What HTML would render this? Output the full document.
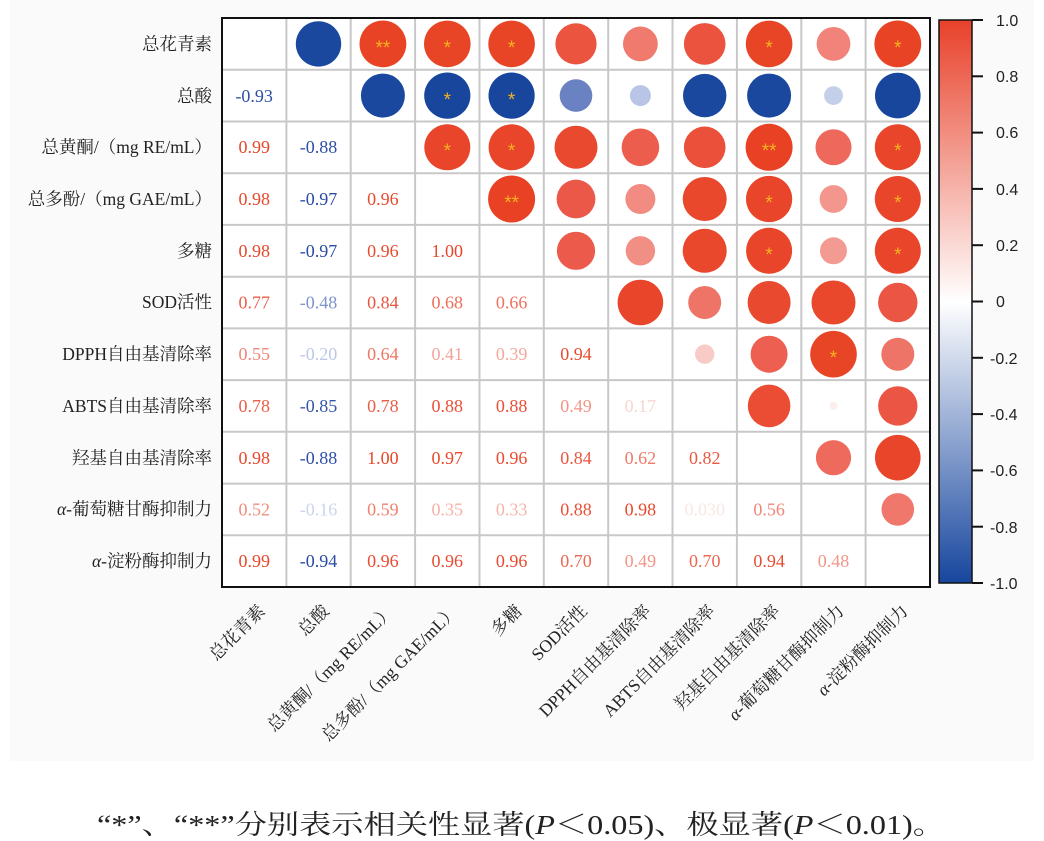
<!DOCTYPE html>
<html><head><meta charset="utf-8"><style>
body{margin:0;background:#fff}
svg{display:block}
.rl{font-family:"Liberation Serif","Noto Serif CJK SC",serif;font-size:17.5px;fill:#222}
.v{font-family:"Liberation Serif",serif;font-size:18px;text-anchor:middle}
.s{font-family:"Liberation Sans",sans-serif;font-size:19px;fill:#f4b41f;text-anchor:middle}
.cb{font-family:"Liberation Sans",sans-serif;font-size:16px;fill:#222}
</style></head><body>
<svg width="1044" height="841" viewBox="0 0 1044 841" xmlns="http://www.w3.org/2000/svg">
<defs><linearGradient id="g" x1="0" y1="0" x2="0" y2="1">
<stop offset="0" stop-color="#e8412a"/><stop offset="0.5" stop-color="#ffffff"/><stop offset="1" stop-color="#17469e"/></linearGradient></defs>
<rect x="10" y="0" width="1024" height="761" fill="#fafafa"/>
<rect x="222" y="18" width="708" height="569" fill="#fff"/>
<g stroke="#c8c8c8" stroke-width="2">
<line x1="286.4" y1="18" x2="286.4" y2="587"/><line x1="350.7" y1="18" x2="350.7" y2="587"/><line x1="415.1" y1="18" x2="415.1" y2="587"/><line x1="479.5" y1="18" x2="479.5" y2="587"/><line x1="543.8" y1="18" x2="543.8" y2="587"/><line x1="608.2" y1="18" x2="608.2" y2="587"/><line x1="672.5" y1="18" x2="672.5" y2="587"/><line x1="736.9" y1="18" x2="736.9" y2="587"/><line x1="801.3" y1="18" x2="801.3" y2="587"/><line x1="865.6" y1="18" x2="865.6" y2="587"/>
<line x1="222" y1="69.7" x2="930" y2="69.7"/><line x1="222" y1="121.5" x2="930" y2="121.5"/><line x1="222" y1="173.2" x2="930" y2="173.2"/><line x1="222" y1="224.9" x2="930" y2="224.9"/><line x1="222" y1="276.7" x2="930" y2="276.7"/><line x1="222" y1="328.4" x2="930" y2="328.4"/><line x1="222" y1="380.1" x2="930" y2="380.1"/><line x1="222" y1="431.8" x2="930" y2="431.8"/><line x1="222" y1="483.6" x2="930" y2="483.6"/><line x1="222" y1="535.3" x2="930" y2="535.3"/>
</g>
<rect x="222" y="18" width="708" height="569" fill="none" stroke="#111" stroke-width="2"/>
<g>
<circle cx="318.5" cy="43.9" r="22.7" fill="#1a489f"/>
<circle cx="382.9" cy="43.9" r="23.4" fill="#e84325"/>
<circle cx="447.3" cy="43.9" r="23.3" fill="#e84527"/>
<circle cx="511.6" cy="43.9" r="23.3" fill="#e84527"/>
<circle cx="576.0" cy="43.9" r="20.6" fill="#eb5540"/>
<circle cx="640.4" cy="43.9" r="17.4" fill="#f07a6e"/>
<circle cx="704.7" cy="43.9" r="20.8" fill="#eb533e"/>
<circle cx="769.1" cy="43.9" r="23.3" fill="#e84527"/>
<circle cx="833.5" cy="43.9" r="16.9" fill="#f1837a"/>
<circle cx="897.8" cy="43.9" r="23.4" fill="#e84325"/>

<circle cx="382.9" cy="95.6" r="22.0" fill="#1a489f"/>
<circle cx="447.3" cy="95.6" r="23.1" fill="#18469d"/>
<circle cx="511.6" cy="95.6" r="23.1" fill="#18469d"/>
<circle cx="576.0" cy="95.6" r="16.3" fill="#6b82c2"/>
<circle cx="640.4" cy="95.6" r="10.5" fill="#b8c5e6"/>
<circle cx="704.7" cy="95.6" r="21.7" fill="#1a489f"/>
<circle cx="769.1" cy="95.6" r="22.0" fill="#1a489f"/>
<circle cx="833.5" cy="95.6" r="9.4" fill="#c4cfea"/>
<circle cx="897.8" cy="95.6" r="22.8" fill="#18469d"/>

<circle cx="447.3" cy="147.3" r="23.0" fill="#e8452a"/>
<circle cx="511.6" cy="147.3" r="23.0" fill="#e8452a"/>
<circle cx="576.0" cy="147.3" r="21.5" fill="#e94a2f"/>
<circle cx="640.4" cy="147.3" r="18.8" fill="#ec5d4e"/>
<circle cx="704.7" cy="147.3" r="20.8" fill="#ea503a"/>
<circle cx="769.1" cy="147.3" r="23.5" fill="#e84123"/>
<circle cx="833.5" cy="147.3" r="18.0" fill="#ee685b"/>
<circle cx="897.8" cy="147.3" r="23.0" fill="#e8452a"/>

<circle cx="511.6" cy="199.0" r="23.5" fill="#e84123"/>
<circle cx="576.0" cy="199.0" r="19.4" fill="#ec5848"/>
<circle cx="640.4" cy="199.0" r="15.0" fill="#f28c82"/>
<circle cx="704.7" cy="199.0" r="22.0" fill="#e9482c"/>
<circle cx="769.1" cy="199.0" r="23.1" fill="#e8452a"/>
<circle cx="833.5" cy="199.0" r="13.9" fill="#f3978e"/>
<circle cx="897.8" cy="199.0" r="23.0" fill="#e8452a"/>

<circle cx="576.0" cy="250.8" r="19.1" fill="#ec5a4b"/>
<circle cx="640.4" cy="250.8" r="14.7" fill="#f28f85"/>
<circle cx="704.7" cy="250.8" r="22.0" fill="#e9482c"/>
<circle cx="769.1" cy="250.8" r="23.0" fill="#e8452a"/>
<circle cx="833.5" cy="250.8" r="13.5" fill="#f39b92"/>
<circle cx="897.8" cy="250.8" r="23.0" fill="#e8452a"/>

<circle cx="640.4" cy="302.5" r="22.8" fill="#e8452a"/>
<circle cx="704.7" cy="302.5" r="16.5" fill="#ef7468"/>
<circle cx="769.1" cy="302.5" r="21.5" fill="#e94a2f"/>
<circle cx="833.5" cy="302.5" r="22.0" fill="#e9482c"/>
<circle cx="897.8" cy="302.5" r="19.7" fill="#eb5644"/>

<circle cx="704.7" cy="354.2" r="9.7" fill="#f8cbc6"/>
<circle cx="769.1" cy="354.2" r="18.5" fill="#ed5f50"/>
<circle cx="833.5" cy="354.2" r="23.3" fill="#e84527"/>
<circle cx="897.8" cy="354.2" r="16.5" fill="#ef7468"/>

<circle cx="769.1" cy="405.9" r="21.3" fill="#ea4c34"/>
<circle cx="833.5" cy="405.9" r="4.1" fill="#fbefed"/>
<circle cx="897.8" cy="405.9" r="19.7" fill="#eb5644"/>

<circle cx="833.5" cy="457.7" r="17.6" fill="#ee6a5d"/>
<circle cx="897.8" cy="457.7" r="22.8" fill="#e8452a"/>

<circle cx="897.8" cy="509.4" r="16.3" fill="#f0776c"/>
</g>
<g class="s">
<text x="382.9" y="54">**</text><text x="447.3" y="54">*</text><text x="511.6" y="54">*</text><text x="769.1" y="54">*</text><text x="897.8" y="54">*</text>
<text x="447.3" y="106">*</text><text x="511.6" y="106">*</text>
<text x="447.3" y="157">*</text><text x="511.6" y="157">*</text><text x="769.1" y="157">**</text><text x="897.8" y="157">*</text>
<text x="511.6" y="209">**</text><text x="769.1" y="209">*</text><text x="897.8" y="209">*</text>
<text x="769.1" y="261">*</text><text x="897.8" y="261">*</text>
<text x="833.5" y="364">*</text>
</g>
<g class="v">
<text x="254.2" y="102" fill="#2f4fa5">-0.93</text>
<text x="254.2" y="153" fill="#e8482b">0.99</text><text x="318.5" y="153" fill="#2f4fa5">-0.88</text>
<text x="254.2" y="205" fill="#e8482b">0.98</text><text x="318.5" y="205" fill="#2a4ba3">-0.97</text><text x="382.9" y="205" fill="#e84c30">0.96</text>
<text x="254.2" y="257" fill="#e8482b">0.98</text><text x="318.5" y="257" fill="#2a4ba3">-0.97</text><text x="382.9" y="257" fill="#e84c30">0.96</text><text x="447.3" y="257" fill="#e8462a">1.00</text>
<text x="254.2" y="308.5" fill="#ea5f4a">0.77</text><text x="318.5" y="308.5" fill="#7f93cc">-0.48</text><text x="382.9" y="308.5" fill="#e95540">0.84</text><text x="447.3" y="308.5" fill="#ec6e5c">0.68</text><text x="511.6" y="308.5" fill="#ec7260">0.66</text>
<text x="254.2" y="360" fill="#ef8676">0.55</text><text x="318.5" y="360" fill="#bcc8e6">-0.20</text><text x="382.9" y="360" fill="#ed7665">0.64</text><text x="447.3" y="360" fill="#f3a397">0.41</text><text x="511.6" y="360" fill="#f3a79b">0.39</text><text x="576.0" y="360" fill="#e84c30">0.94</text>
<text x="254.2" y="412" fill="#ea5e48">0.78</text><text x="318.5" y="412" fill="#3555a7">-0.85</text><text x="382.9" y="412" fill="#ea5e48">0.78</text><text x="447.3" y="412" fill="#e95036">0.88</text><text x="511.6" y="412" fill="#e95036">0.88</text><text x="576.0" y="412" fill="#f29486">0.49</text><text x="640.4" y="412" fill="#f8d6d1">0.17</text>
<text x="254.2" y="464" fill="#e8482b">0.98</text><text x="318.5" y="464" fill="#2f4fa5">-0.88</text><text x="382.9" y="464" fill="#e8462a">1.00</text><text x="447.3" y="464" fill="#e84a2d">0.97</text><text x="511.6" y="464" fill="#e84c30">0.96</text><text x="576.0" y="464" fill="#e95540">0.84</text><text x="640.4" y="464" fill="#ee7a69">0.62</text><text x="704.7" y="464" fill="#e95842">0.82</text>
<text x="254.2" y="515.5" fill="#f08e7f">0.52</text><text x="318.5" y="515.5" fill="#ccd5ed">-0.16</text><text x="382.9" y="515.5" fill="#ee8170">0.59</text><text x="447.3" y="515.5" fill="#f5b1a6">0.35</text><text x="511.6" y="515.5" fill="#f5b5aa">0.33</text><text x="576.0" y="515.5" fill="#e95036">0.88</text><text x="640.4" y="515.5" fill="#e8482b">0.98</text><text x="704.7" y="515.5" fill="#fae6e3">0.030</text><text x="769.1" y="515.5" fill="#ef8676">0.56</text>
<text x="254.2" y="567" fill="#e8482b">0.99</text><text x="318.5" y="567" fill="#2a4ba3">-0.94</text><text x="382.9" y="567" fill="#e84c30">0.96</text><text x="447.3" y="567" fill="#e84c30">0.96</text><text x="511.6" y="567" fill="#e84c30">0.96</text><text x="576.0" y="567" fill="#eb6752">0.70</text><text x="640.4" y="567" fill="#f29486">0.49</text><text x="704.7" y="567" fill="#eb6752">0.70</text><text x="769.1" y="567" fill="#e84c30">0.94</text><text x="833.5" y="567" fill="#f29689">0.48</text>
</g>
<g class="rl" text-anchor="end">
<text x="212" y="50">总花青素</text>
<text x="212" y="102">总酸</text>
<text x="212" y="153">总黄酮/（mg RE/mL）</text>
<text x="212" y="205">总多酚/（mg GAE/mL）</text>
<text x="212" y="257">多糖</text>
<text x="212" y="308">SOD活性</text>
<text x="212" y="360">DPPH自由基清除率</text>
<text x="212" y="412">ABTS自由基清除率</text>
<text x="212" y="464">羟基自由基清除率</text>
<text x="212" y="515"><tspan font-style="italic">α</tspan>-葡萄糖甘酶抑制力</text>
<text x="212" y="567"><tspan font-style="italic">α</tspan>-淀粉酶抑制力</text>
</g>
<g class="rl" text-anchor="end">
<text transform="translate(266,612) rotate(-45)">总花青素</text>
<text transform="translate(330,612) rotate(-45)">总酸</text>
<text transform="translate(395,612) rotate(-45)">总黄酮/（mg RE/mL）</text>
<text transform="translate(459,612) rotate(-45)">总多酚/（mg GAE/mL）</text>
<text transform="translate(523,612) rotate(-45)">多糖</text>
<text transform="translate(588,612) rotate(-45)">SOD活性</text>
<text transform="translate(652,612) rotate(-45)">DPPH自由基清除率</text>
<text transform="translate(716,612) rotate(-45)">ABTS自由基清除率</text>
<text transform="translate(781,612) rotate(-45)">羟基自由基清除率</text>
<text transform="translate(845,612) rotate(-45)"><tspan font-style="italic">α</tspan>-葡萄糖甘酶抑制力</text>
<text transform="translate(909,612) rotate(-45)"><tspan font-style="italic">α</tspan>-淀粉酶抑制力</text>
</g>
<rect x="939" y="20" width="33" height="563" fill="url(#g)" stroke="#111" stroke-width="1.5"/>
<g stroke="#111" stroke-width="2">
<line x1="972" y1="20" x2="983" y2="20"/><line x1="972" y1="76.3" x2="983" y2="76.3"/><line x1="972" y1="132.6" x2="983" y2="132.6"/><line x1="972" y1="188.9" x2="983" y2="188.9"/><line x1="972" y1="245.2" x2="983" y2="245.2"/><line x1="972" y1="301.5" x2="983" y2="301.5"/><line x1="972" y1="357.8" x2="983" y2="357.8"/><line x1="972" y1="414.1" x2="983" y2="414.1"/><line x1="972" y1="470.4" x2="983" y2="470.4"/><line x1="972" y1="526.7" x2="983" y2="526.7"/><line x1="972" y1="583" x2="983" y2="583"/>
</g>
<g class="cb">
<text x="996" y="26">1.0</text><text x="996" y="82">0.8</text><text x="996" y="138">0.6</text><text x="996" y="195">0.4</text><text x="996" y="251">0.2</text><text x="996" y="307">0</text>
<text x="990" y="364">-0.2</text><text x="990" y="420">-0.4</text><text x="990" y="476">-0.6</text><text x="990" y="533">-0.8</text><text x="990" y="589">-1.0</text>
</g>
<text x="97" y="834" font-family="'Liberation Serif','Noto Serif CJK SC',serif" font-size="27" fill="#222" textLength="848" lengthAdjust="spacingAndGlyphs">“*”、“**”分别表示相关性显著(<tspan font-style="italic">P</tspan>＜0.05)、极显著(<tspan font-style="italic">P</tspan>＜0.01)。</text>
</svg>
</body></html>
